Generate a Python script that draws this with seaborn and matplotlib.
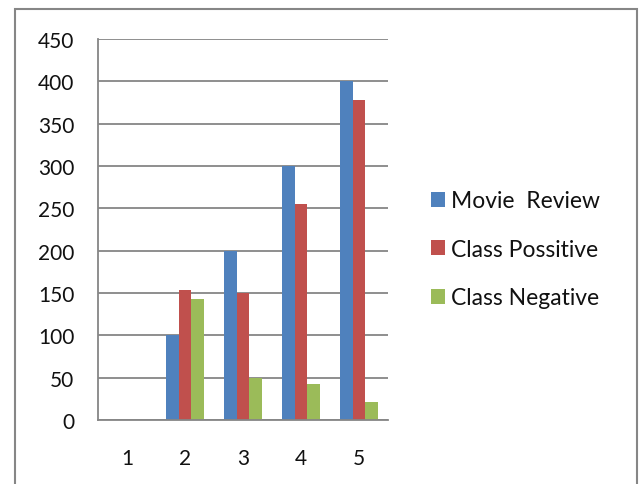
import pandas as pd
import matplotlib
matplotlib.use("Agg")
import matplotlib.pyplot as plt
import matplotlib.patches as mpatches
import seaborn as sns

# data
categories = ["1", "2", "3", "4", "5"]
movie_review = [0, 100, 200, 300, 400]
class_positive = [0, 154, 150, 255, 378]
class_negative = [0, 143, 50, 43, 21]
series_names = ["Movie  Review", "Class Possitive", "Class Negative"]
colors = ["#4F81BD", "#C0504D", "#9BBB59"]

df = pd.DataFrame({
    "Category": categories * 3,
    "Value": movie_review + class_positive + class_negative,
    "Series": [series_names[0]] * 5 + [series_names[1]] * 5 + [series_names[2]] * 5,
})

sns.set_style("white")
plt.rcParams["font.family"] = ["Lato", "DejaVu Sans"]

fig = plt.figure(figsize=(6.4, 4.85), dpi=100)
ax = fig.add_axes([98 / 640, 1 - 421 / 485, 290 / 640, 381 / 485])

sns.barplot(data=df, x="Category", y="Value", hue="Series", palette=colors,
            width=0.67, gap=0, saturation=1, linewidth=0, ax=ax, legend=True)

ax.set_ylim(0, 450)
ax.set_xlim(-0.5, 4.5)
ax.set_yticks(range(0, 451, 50))
ax.yaxis.grid(True, color="#868686", linewidth=1.3)
ax.set_axisbelow(True)
ax.set_xlabel("")
ax.set_ylabel("")

for side in ["top", "right"]:
    ax.spines[side].set_visible(False)
for side in ["left", "bottom"]:
    ax.spines[side].set_color("#868686")
    ax.spines[side].set_linewidth(1.3)

ax.tick_params(axis="y", length=8, width=1.3, color="#868686", labelsize=15,
               labelcolor="#111111", pad=9)
ax.tick_params(axis="x", which="major", length=0, labelsize=15,
               labelcolor="#111111", pad=20)
ax.set_xticks([i - 0.5 for i in range(6)], minor=True)
ax.tick_params(axis="x", which="minor", length=8, width=1.3, color="#868686")

leg = ax.legend(loc="center left", bbox_to_anchor=(1.115, 0.448), frameon=False,
                fontsize=16.5, handlelength=0.65, handleheight=0.65,
                handletextpad=0.25, labelspacing=1.2, borderaxespad=0)
for t in leg.get_texts():
    t.set_color("#111111")

# outer chart border
fig.patches.append(mpatches.Rectangle((15 / 640, -0.1), 622 / 640, 1.1 - 10 / 485,
                                      transform=fig.transFigure, fill=False,
                                      edgecolor="#868686", linewidth=1.5))

fig.savefig("out.png", dpi=100)
